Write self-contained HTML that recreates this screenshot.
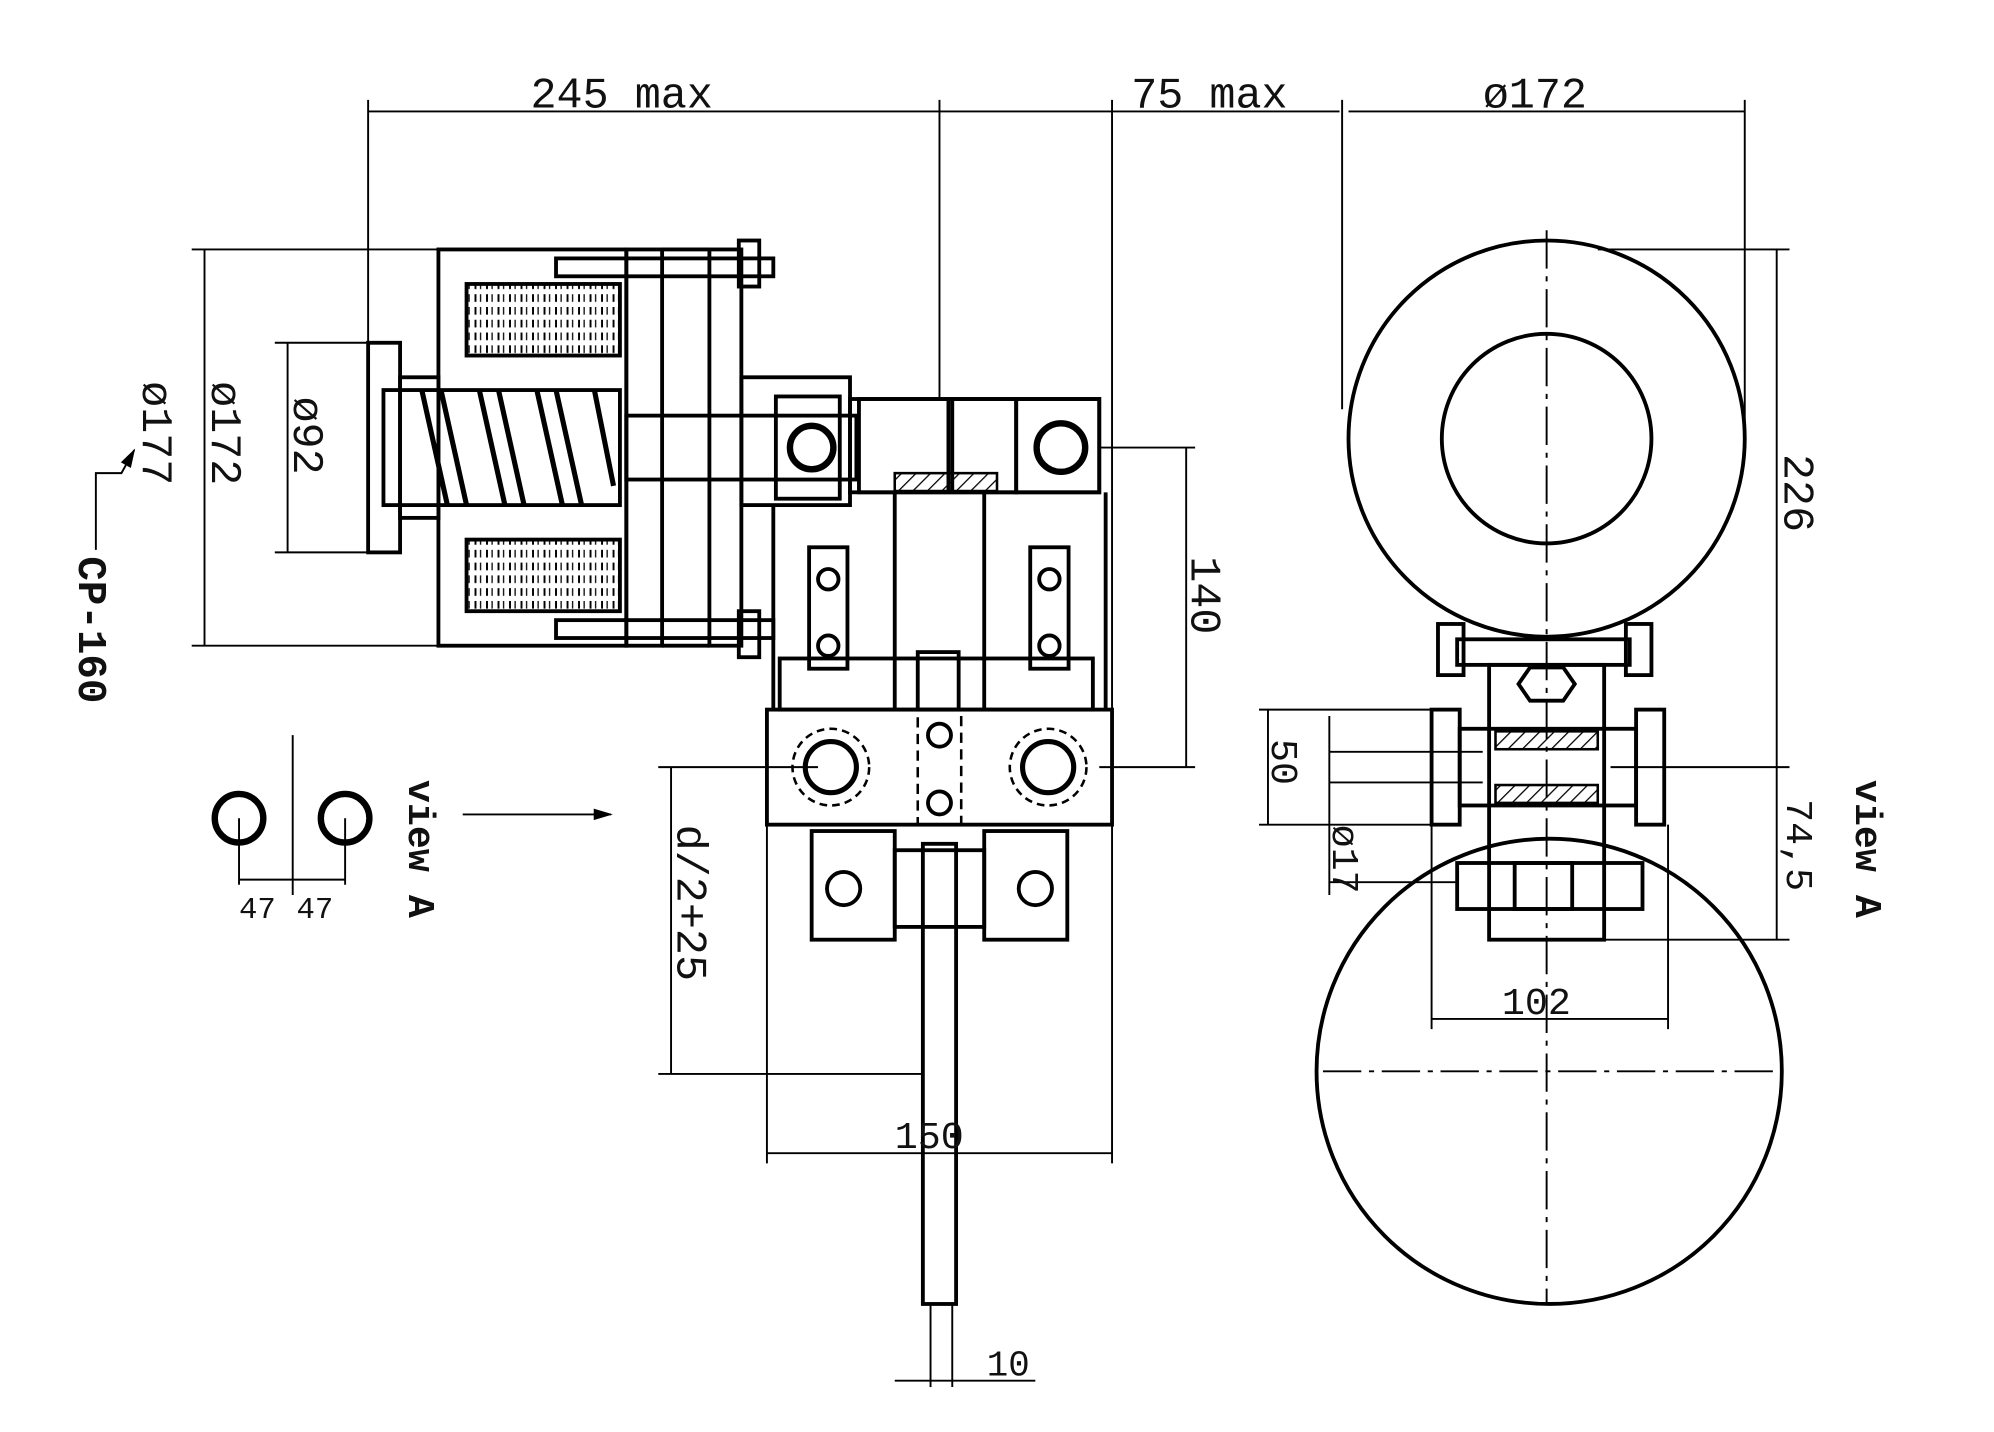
<!DOCTYPE html>
<html><head><meta charset="utf-8"><style>
html,body{margin:0;padding:0;background:#fff;}
svg{display:block}
text{font-family:"Liberation Mono",monospace;fill:#111}
</style></head><body>
<svg width="1994" height="1432" viewBox="0 0 1560 1120" xmlns="http://www.w3.org/2000/svg">
<defs>
<pattern id="hat" width="8" height="8" patternUnits="userSpaceOnUse" patternTransform="rotate(45)"><line x1="0" y1="0" x2="0" y2="8" stroke="#000" stroke-width="2"/></pattern>
<pattern id="coil" width="9" height="10" patternUnits="userSpaceOnUse"><line x1="3" y1="0" x2="3" y2="6" stroke="#000" stroke-width="1.5"/><line x1="7" y1="0" x2="7" y2="6" stroke="#000" stroke-width="1"/></pattern>
<marker id="ar" markerWidth="10" markerHeight="8" refX="9" refY="4" orient="auto"><path d="M0,1 L10,4 L0,7 z" fill="#000"/></marker>
</defs>
<g fill="none" stroke="#000" stroke-width="1.5">
<!-- top dims -->
<line x1="288" y1="87" x2="1048" y2="87"/>
<line x1="1055" y1="87" x2="1365" y2="87"/>
<line x1="288" y1="78" x2="288" y2="270"/>
<line x1="735" y1="78" x2="735" y2="312"/>
<line x1="870" y1="78" x2="870" y2="555"/>
<line x1="1050" y1="78" x2="1050" y2="320"/>
<line x1="1365" y1="78" x2="1365" y2="330"/>
<!-- left dims -->
<line x1="160" y1="195" x2="160" y2="505"/>
<line x1="150" y1="195" x2="343" y2="195"/>
<line x1="150" y1="505" x2="343" y2="505"/>
<line x1="225" y1="268" x2="225" y2="432"/>
<line x1="215" y1="268" x2="290" y2="268"/>
<line x1="215" y1="432" x2="290" y2="432"/>
<polyline points="75,430 75,370 95,370 105,352" marker-end="url(#ar)"/>
</g>
<g fill="none" stroke="#000" stroke-width="3">
<!-- coil housing -->
<rect x="343" y="195" width="147" height="310"/>
<rect x="365" y="222" width="120" height="56" fill="url(#coil)"/>
<rect x="365" y="422" width="120" height="56" fill="url(#coil)"/>
<rect x="490" y="195" width="28" height="310"/>
<rect x="555" y="195" width="25" height="310"/>
<line x1="518" y1="195" x2="555" y2="195"/><line x1="518" y1="505" x2="555" y2="505"/>
<rect x="435" y="202" width="170" height="14"/>
<rect x="435" y="485" width="170" height="14"/>
<rect x="578" y="188" width="16" height="36"/>
<rect x="578" y="478" width="16" height="36"/>
<!-- hub -->
<rect x="288" y="268" width="25" height="164"/>
<rect x="300" y="305" width="185" height="90"/>
<path d="M330,305 L350,395 M345,305 L365,395 M375,305 L395,395 M390,305 L410,395 M420,305 L440,395 M435,305 L455,395 M465,305 L480,380" stroke-width="4"/>
<rect x="313" y="295" width="30" height="110"/>
<!-- shaft -->
<rect x="580" y="295" width="85" height="100"/>
<rect x="490" y="325" width="180" height="50"/>
<rect x="607" y="310" width="50" height="80"/>
<circle cx="635" cy="350" r="17" stroke-width="5"/>
<rect x="665" y="312" width="195" height="73"/>
<rect x="672" y="312" width="70" height="73"/>
<rect x="745" y="312" width="50" height="73"/>
<rect x="795" y="312" width="65" height="73"/>
<circle cx="830" cy="350" r="19" stroke-width="5"/>
<rect x="700" y="370" width="80" height="14" fill="url(#hat)" stroke-width="2"/>
<line x1="605" y1="395" x2="605" y2="555"/>
<line x1="700" y1="385" x2="700" y2="555"/>
<line x1="770" y1="385" x2="770" y2="555"/>
<line x1="865" y1="385" x2="865" y2="555"/>
<!-- arms -->
<rect x="633" y="428" width="30" height="95"/>
<circle cx="648" cy="453" r="8"/><circle cx="648" cy="505" r="8"/>
<rect x="806" y="428" width="30" height="95"/>
<circle cx="821" cy="453" r="8"/><circle cx="821" cy="505" r="8"/>
<rect x="610" y="515" width="245" height="40"/>
<rect x="718" y="510" width="32" height="45"/>
<!-- block -->
<rect x="600" y="555" width="270" height="90"/>
<circle cx="650" cy="600" r="20" stroke-width="4"/>
<circle cx="650" cy="600" r="30" stroke-dasharray="6,4" stroke-width="2"/>
<circle cx="820" cy="600" r="20" stroke-width="4"/>
<circle cx="820" cy="600" r="30" stroke-dasharray="6,4" stroke-width="2"/>
<rect x="718" y="555" width="34" height="90" stroke-dasharray="8,5" stroke-width="2"/>
<circle cx="735" cy="575" r="9"/><circle cx="735" cy="628" r="9"/>
<!-- pads -->
<rect x="635" y="650" width="65" height="85"/>
<rect x="770" y="650" width="65" height="85"/>
<circle cx="660" cy="695" r="13"/><circle cx="810" cy="695" r="13"/>
<rect x="700" y="665" width="70" height="60"/>
<rect x="722" y="660" width="26" height="360"/>
</g>
<g fill="none" stroke="#000" stroke-width="1.5">
<line x1="860" y1="350" x2="935" y2="350"/>
<line x1="860" y1="600" x2="935" y2="600"/>
<line x1="928" y1="350" x2="928" y2="600"/>
<line x1="515" y1="600" x2="640" y2="600"/>
<line x1="515" y1="840" x2="722" y2="840"/>
<line x1="525" y1="600" x2="525" y2="840"/>
<line x1="600" y1="645" x2="600" y2="910"/>
<line x1="870" y1="645" x2="870" y2="910"/>
<line x1="600" y1="902" x2="870" y2="902"/>
<line x1="728" y1="1020" x2="728" y2="1085"/>
<line x1="745" y1="1020" x2="745" y2="1085"/>
<line x1="700" y1="1080" x2="810" y2="1080"/>
<line x1="362" y1="637" x2="478" y2="637" marker-end="url(#ar)"/>
<line x1="187" y1="640" x2="187" y2="692"/><line x1="229" y1="575" x2="229" y2="700"/><line x1="270" y1="640" x2="270" y2="692"/>
<line x1="187" y1="688" x2="270" y2="688"/>
</g>
<circle cx="187" cy="640" r="19" fill="none" stroke="#000" stroke-width="5"/>
<circle cx="270" cy="640" r="19" fill="none" stroke="#000" stroke-width="5"/>
<!-- right view -->
<g fill="none" stroke="#000" stroke-width="3">
<circle cx="1210" cy="343" r="155"/>
<circle cx="1210" cy="343" r="82"/>
<circle cx="1212" cy="838" r="182"/>
<rect x="1125" y="488" width="20" height="40"/>
<rect x="1272" y="488" width="20" height="40"/>
<rect x="1140" y="500" width="135" height="20"/>
<rect x="1165" y="520" width="90" height="215"/>
<polygon points="1197,522 1223,522 1232,535 1223,548 1197,548 1188,535"/>
<rect x="1120" y="555" width="22" height="90"/>
<rect x="1280" y="555" width="22" height="90"/>
<rect x="1142" y="570" width="138" height="60"/>
<rect x="1170" y="572" width="80" height="14" fill="url(#hat)" stroke-width="2"/>
<rect x="1170" y="614" width="80" height="14" fill="url(#hat)" stroke-width="2"/>
<rect x="1140" y="675" width="145" height="36"/>
<rect x="1185" y="675" width="45" height="36"/>
</g>
<g fill="none" stroke="#000" stroke-width="1.5">
<line x1="1210" y1="180" x2="1210" y2="1020" stroke-dasharray="30,6,4,6"/>
<line x1="1035" y1="838" x2="1390" y2="838" stroke-dasharray="30,6,4,6"/>
<line x1="1250" y1="195" x2="1400" y2="195"/>
<line x1="1390" y1="195" x2="1390" y2="735"/>
<line x1="1260" y1="600" x2="1400" y2="600"/>
<line x1="1250" y1="735" x2="1400" y2="735"/>
<line x1="985" y1="555" x2="1120" y2="555"/>
<line x1="985" y1="645" x2="1120" y2="645"/>
<line x1="992" y1="555" x2="992" y2="645"/>
<line x1="1040" y1="560" x2="1040" y2="700"/>
<line x1="1040" y1="588" x2="1160" y2="588"/>
<line x1="1040" y1="612" x2="1160" y2="612"/>
<line x1="1040" y1="690" x2="1140" y2="690"/>
<line x1="1120" y1="645" x2="1120" y2="805"/>
<line x1="1305" y1="645" x2="1305" y2="805"/>
<line x1="1120" y1="797" x2="1305" y2="797"/>
</g>
<!-- texts -->
<g font-size="34">
<text x="415" y="84">245 max</text>
<text x="885" y="84">75 max</text>
<text x="1160" y="84">ø172</text>
<text x="700" y="898" font-size="30">150</text>
<text x="772" y="1076" font-size="28">10</text>
<text x="1175" y="793" font-size="30">102</text>
<text x="187" y="718" font-size="24" font-family="Liberation Sans">47</text>
<text x="232" y="718" font-size="24" font-family="Liberation Sans">47</text>
</g>
<g font-size="34">
<text transform="translate(166,298) rotate(90)">ø172</text>
<text transform="translate(112,298) rotate(90)">ø177</text>
<text transform="translate(230,310) rotate(90)">ø92</text>
<text transform="translate(932,435) rotate(90)">140</text>
<text transform="translate(530,645) rotate(90)">d/2+25</text>
<text transform="translate(1396,355) rotate(90)">226</text>
<text transform="translate(995,578) rotate(90)" font-size="30">50</text>
<text transform="translate(1043,645) rotate(90)" font-size="30">ø17</text>
<text transform="translate(1398,625) rotate(90)" font-size="30">74,5</text>
<text transform="translate(320,610) rotate(90)" font-family="Liberation Sans" font-weight="bold" font-size="30">view A</text>
<text transform="translate(1452,610) rotate(90)" font-family="Liberation Sans" font-weight="bold" font-size="30">view A</text>
<text transform="translate(62,435) rotate(90)" font-family="Liberation Sans" font-weight="bold" font-size="32">CP-160</text>
</g>
</svg>
</body></html>
